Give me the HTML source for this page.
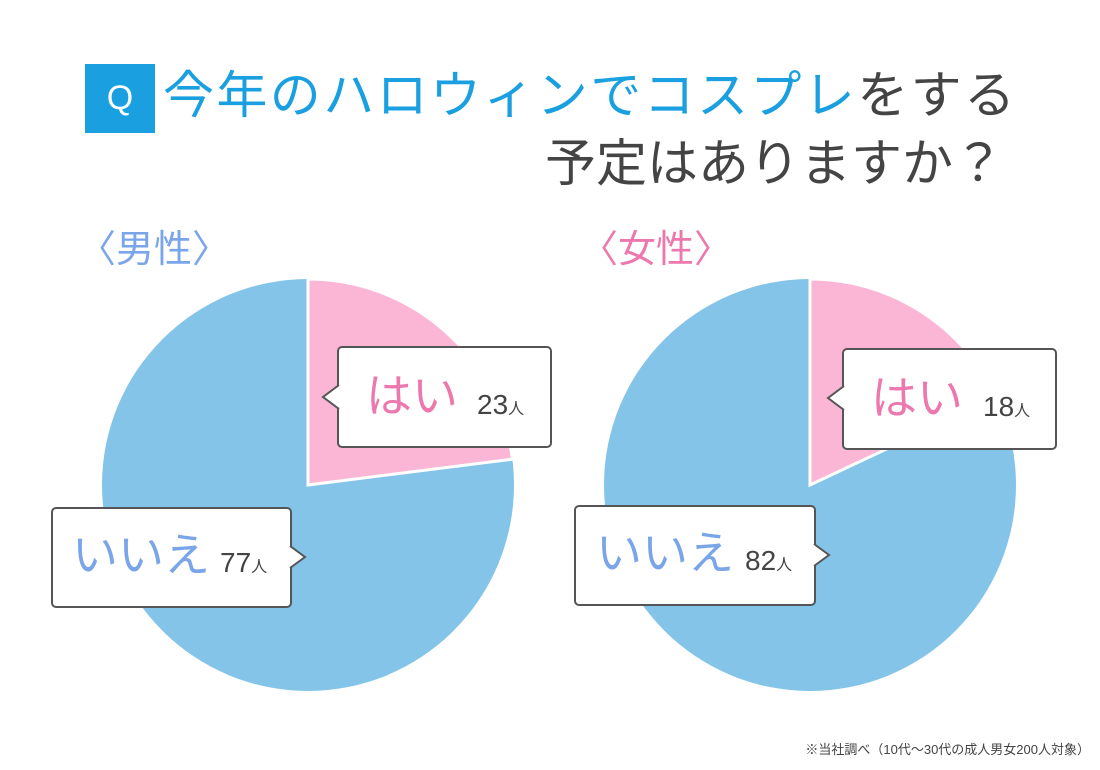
<!DOCTYPE html>
<html><head><meta charset="utf-8"><style>
body{margin:0;width:1100px;height:770px;background:#fff;position:relative;overflow:hidden;font-family:"Liberation Sans","Noto Sans CJK JP",sans-serif;}
.a{position:absolute;white-space:nowrap;}
.box{position:absolute;background:#fff;border:2px solid #555;border-radius:5px;box-sizing:border-box;}
</style></head><body>
<div class="a" style="left:85px;top:64px;width:70px;height:69px;background:#1aa0e0;color:#fff;font-size:34px;line-height:69px;text-align:center;">Q</div>
<div class="a" style="left:163px;top:66px;font-size:51px;line-height:60px;color:#1aa0e0;letter-spacing:2.4px;">今年のハロウィンで<span>コスプレ</span><span style="color:#444">をする</span></div>
<div class="a" style="right:96px;top:134px;font-size:51px;line-height:60px;color:#444;letter-spacing:0px;">予定はありますか？</div>
<div class="a" style="left:78px;top:225px;font-size:38px;line-height:50px;color:#7aa5e8;">〈男性〉</div>
<div class="a" style="left:580px;top:225px;font-size:38px;line-height:50px;color:#ec78ae;">〈女性〉</div>
<svg class="a" style="left:0;top:0" width="1100" height="770">
<circle cx="308" cy="485" r="206" fill="#83c4e8"/>
<path d="M308 485 L308 279 A206 206 0 0 1 512.4 459.2 Z" fill="#fbb6d6" stroke="#fff" stroke-width="3"/>
<circle cx="810" cy="485" r="206" fill="#83c4e8"/>
<path d="M810 485 L810 279 A206 206 0 0 1 996.4 397.3 Z" fill="#fbb6d6" stroke="#fff" stroke-width="3"/>
</svg>
<div class="box" style="left:337px;top:346px;width:215px;height:102px;"></div>
<div class="box" style="left:51px;top:507px;width:241px;height:101px;"></div>
<div class="box" style="left:842px;top:348px;width:215px;height:102px;"></div>
<div class="box" style="left:574px;top:505px;width:242px;height:101px;"></div>
<svg class="a" style="left:0;top:0" width="1100" height="770">
<polyline points="339,385 323,397 339,409" fill="#fff" stroke="#555" stroke-width="2"/>
<polyline points="290,546 305,557 290,568" fill="#fff" stroke="#555" stroke-width="2"/>
<polyline points="844,386 828,398 844,410" fill="#fff" stroke="#555" stroke-width="2"/>
<polyline points="814,544 829,555 814,566" fill="#fff" stroke="#555" stroke-width="2"/>
</svg>
<div class="a" style="left:366px;top:366px;font-size:46px;line-height:60px;color:#ec78ae;">はい</div>
<div class="a" style="left:477px;top:385px;font-size:28px;line-height:40px;color:#444;">23<span style="font-size:16px">人</span></div>
<div class="a" style="left:72px;top:525px;font-size:46px;line-height:60px;color:#7aa5e8;">いいえ</div>
<div class="a" style="left:220px;top:543px;font-size:28px;line-height:40px;color:#444;">77<span style="font-size:16px">人</span></div>
<div class="a" style="left:871px;top:368px;font-size:46px;line-height:60px;color:#ec78ae;">はい</div>
<div class="a" style="left:983px;top:387px;font-size:28px;line-height:40px;color:#444;">18<span style="font-size:16px">人</span></div>
<div class="a" style="left:596px;top:523px;font-size:46px;line-height:60px;color:#7aa5e8;">いいえ</div>
<div class="a" style="left:745px;top:541px;font-size:28px;line-height:40px;color:#444;">82<span style="font-size:16px">人</span></div>
<div class="a" style="right:10px;top:741px;font-size:13px;line-height:18px;color:#444;">※当社調べ（10代〜30代の成人男女200人対象）</div>
</body></html>
